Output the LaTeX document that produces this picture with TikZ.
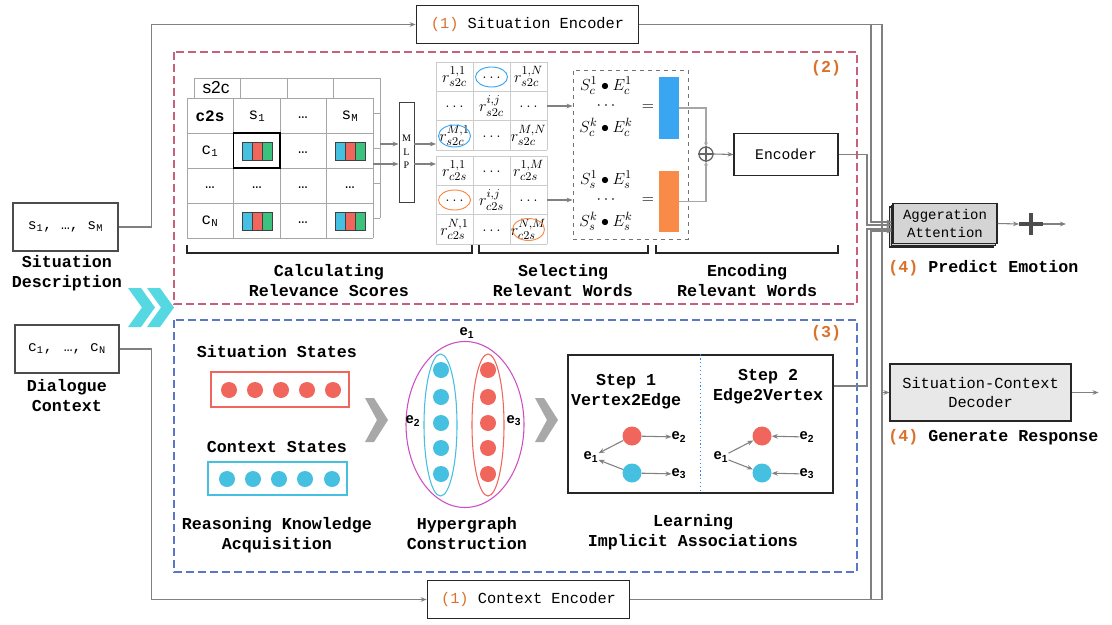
\documentclass[tikz,border=0pt]{standalone}
\usepackage{fontspec}
\setmainfont{Liberation Serif}
\setsansfont{Liberation Sans}
\setmonofont{Liberation Mono}
\usepackage{tikz}
\usetikzlibrary{arrows.meta,shadows,calc}

\definecolor{linegray}{HTML}{808080}
\definecolor{mgridc}{HTML}{A6A6A6}
\definecolor{rgridc}{HTML}{CCCCCC}
\definecolor{pinkline}{HTML}{C8607C}
\definecolor{blueline}{HTML}{5A76C6}
\definecolor{numorange}{HTML}{D9732B}
\definecolor{dotred}{HTML}{F0655C}
\definecolor{dotcyan}{HTML}{45C0E0}
\definecolor{barblue}{HTML}{3AA6F2}
\definecolor{barorange}{HTML}{F98A48}
\definecolor{bargreen}{HTML}{3CC27E}
\definecolor{hypermag}{HTML}{CC4FC4}
\definecolor{chevcyan}{HTML}{55D8E2}
\definecolor{chevgray}{HTML}{A8A8A8}

% three coloured cells of one pair vector
\newcommand{\tribar}[2]{%
  \draw[draw=black!75, fill=dotcyan] (#1-15,#2-9) rectangle (#1-5,#2+9);
  \draw[draw=black!75, fill=dotred] (#1-5,#2-9) rectangle (#1+5,#2+9);
  \draw[draw=black!75, fill=bargreen] (#1+5,#2-9) rectangle (#1+15,#2+9);
}

\begin{document}
\begin{tikzpicture}[x=0.75pt, y=0.75pt, yscale=-1,
    >={Stealth[length=4.5pt,width=3.5pt]},
    gline/.style={draw=linegray, line width=0.8pt},
    garrow/.style={gline, ->},
    mgrid/.style={draw=mgridc, line width=0.7pt},
    rgrid/.style={draw=rgridc, line width=0.7pt},
    lbl/.style={font=\fontsize{12.5}{15}\selectfont\ttfamily\bfseries, align=center, inner sep=0pt},
    boxtxt/.style={draw=black!85, line width=0.8pt, font=\fontsize{11.5}{14}\selectfont\ttfamily, align=center, inner sep=0pt},
    num/.style={font=\fontsize{12.5}{15}\selectfont\ttfamily\bfseries, text=numorange, inner sep=0pt},
    cellfont/.style={font=\fontsize{12}{12}\selectfont\ttfamily, inner sep=0pt},
    rfont/.style={font=\fontsize{13}{13}\selectfont, inner sep=0pt},
    ffont/.style={font=\fontsize{12.5}{12.5}\selectfont, inner sep=0pt},
    elab/.style={font=\fontsize{11}{11}\selectfont\sffamily\bfseries, inner sep=0pt},
    dot/.style={circle, minimum size=14.25pt, inner sep=0pt},
  ]
  \fill[white] (0,0) rectangle (1112,624);
  \useasboundingbox (0,0) rectangle (1112,624);

  % encoders and inputs
  \node[boxtxt, minimum width=167pt, minimum height=29pt] (senc) at (527.5,24.5) {\textcolor{numorange}{(1)} Situation Encoder};
  \node[boxtxt, minimum width=152pt, minimum height=29pt] (cenc) at (528.5,599.5) {\textcolor{numorange}{(1)} Context Encoder};
  \node[boxtxt, draw=black!70, minimum width=78.75pt, minimum height=36pt, font=\fontsize{11}{13}\selectfont\ttfamily] (sdesc) at (65.5,227) {s\textsubscript{1}, …, s\textsubscript{M}};
  \node[boxtxt, draw=black!70, minimum width=78pt, minimum height=36pt, font=\fontsize{11}{13}\selectfont\ttfamily] (dctx) at (67,349) {c\textsubscript{1}, \,…, c\textsubscript{N}};
  \node[lbl] (sdesclbl) at (67,273.5) {Situation\\Description};
  \node[lbl] (dctxlbl) at (67,396) {Dialogue\\Context};
  \draw[garrow] (sdesc.east) -- ++(33,0) |- (senc.west);
  \draw[garrow] (dctx.east) -- ++(32,0) |- (cenc.west);

  % cyan chevrons
  \foreach \dx in {0,19}
    \fill[chevcyan] (128+\dx,288) -- (141+\dx,288) -- (155+\dx,307.5) -- (141+\dx,327) -- (128+\dx,327) -- (142+\dx,307.5) -- cycle;

  % dashed panels
  \draw[pinkline, line width=0.8pt, dash pattern=on 6pt off 3pt] (174,52) rectangle (857,304);
  \draw[blueline, line width=0.8pt, dash pattern=on 6pt off 3pt] (174,320) rectangle (857,572);
  \node[num] (n2) at (826,68) {(2)};
  \node[num] (n3) at (826,333) {(3)};

  % relevance matrices
  \foreach \i in {0,...,4} {
    \draw[mgrid] (194+46.5*\i,78) -- (194+46.5*\i,218);
    \draw[mgrid] (194,78+35*\i) -- (380,78+35*\i);
  }
  \fill[white] (187,98) rectangle (373,238);
  \foreach \i in {0,...,4} {
    \draw[mgrid] (187+46.5*\i,98) -- (187+46.5*\i,238);
    \draw[mgrid] (187,98+35*\i) -- (373,98+35*\i);
  }
  \draw[black, line width=0.8pt] (233.5,133) rectangle (280,168);
  \node[font=\fontsize{13}{13}\selectfont\sffamily, inner sep=0pt] (s2c) at (216,88) {s2c};
  \node[cellfont, font=\fontsize{12}{12}\selectfont\ttfamily\bfseries] (c2s) at (210,116) {c2s};
  \node[cellfont] (sa) at (257,116) {s\textsubscript{1}};
  \node[cellfont] (sb) at (303,118) {…};
  \node[cellfont] (sm) at (350,116) {s\textsubscript{M}};
  \node[cellfont] (ca) at (210,151) {c\textsubscript{1}};
  \node[cellfont] (cb) at (303,153) {…};
  \node[cellfont] (cn) at (210,221) {c\textsubscript{N}};
  \node[cellfont] (cd) at (303,223) {…};
  \foreach \x [count=\k] in {210,257,303,350}
    \node[cellfont] (dd-\k) at (\x,188) {…};
  \tribar{257}{151} \tribar{350}{151}
  \tribar{257}{221} \tribar{350}{221}

  % MLP
  \node[draw=black!75, line width=0.7pt, minimum width=11.25pt, minimum height=75pt, inner sep=0pt, font=\fontsize{7.5}{10}\selectfont, align=center] (mlp) at (406.5,152) {M\\L\\P};
  \coordinate (mtop) at (380,144);
  \coordinate (mbot) at (373,164);
  \coordinate (rtab) at (436,0);
  \draw[garrow] (mtop) -- (mtop -| mlp.west);
  \draw[garrow] (mbot) -- (mbot -| mlp.west);
  \draw[garrow] (mlp.east |- mtop) -- (rtab |- mtop);
  \draw[garrow] (mlp.east |- mbot) -- (rtab |- mbot);

  % selected scores
  \foreach \i in {0,...,3} {
    \draw[rgrid] (436+37*\i,62) -- (436+37*\i,150);
    \draw[rgrid] (436,62+29.33*\i) -- (547,62+29.33*\i);
    \draw[rgrid] (436+37*\i,156) -- (436+37*\i,244);
    \draw[rgrid] (436,156+29.33*\i) -- (547,156+29.33*\i);
  }
  \foreach \cx/\cy/\ct [count=\k] in {
      454.5/76.7/{$r^{1,1}_{s2c}$}, 491.5/78/{$\ldots$}, 528.5/76.7/{$r^{1,N}_{s2c}$},
      454.5/107/{$\ldots$}, 491.5/106/{$r^{i,j}_{s2c}$}, 528.5/107/{$\ldots$},
      454.5/135.3/{$r^{M,1}_{s2c}$}, 491.5/136.5/{$\ldots$}, 528.5/135.3/{$r^{M,N}_{s2c}$},
      454.5/170.7/{$r^{1,1}_{c2s}$}, 491.5/172/{$\ldots$}, 528.5/170.7/{$r^{1,M}_{c2s}$},
      454.5/201/{$\ldots$}, 491.5/200/{$r^{i,j}_{c2s}$}, 528.5/201/{$\ldots$},
      454.5/229.3/{$r^{N,1}_{c2s}$}, 491.5/230.5/{$\ldots$}, 528.5/229.3/{$r^{N,M}_{c2s}$}}
    \node[rfont] (r-\k) at (\cx,\cy) {\ct};
  \draw[barblue, line width=0.7pt] (491.5,77) ellipse (16 and 10);
  \draw[barblue, line width=0.7pt] (454.5,136) ellipse (16 and 11);
  \draw[barorange, line width=0.7pt] (454.5,200) ellipse (16 and 10);
  \draw[barorange, line width=0.7pt] (528.5,229.5) ellipse (16 and 11);

  % word selection
  \node[draw=black!55, dashed, line width=0.7pt, minimum width=86.25pt, minimum height=126.75pt, inner sep=0pt] (selbox) at (630.5,154.5) {};
  \coordinate (sela) at (547,106);
  \coordinate (selb) at (547,200);
  \draw[garrow] (sela) -- (sela -| selbox.west);
  \draw[garrow] (selb) -- (selb -| selbox.west);
  \node[ffont] (fa) at (606,86) {$S_c^1\bullet E_c^1$};
  \node[ffont] (fb) at (606,106) {$\cdots$};
  \node[ffont] (fc) at (606,127) {$S_c^k\bullet E_c^k$};
  \node[rfont] (fd) at (648,108) {$=$};
  \node[ffont] (fe) at (606,180) {$S_s^1\bullet E_s^1$};
  \node[ffont] (ff) at (606,200) {$\cdots$};
  \node[ffont] (fg) at (606,221) {$S_s^k\bullet E_s^k$};
  \node[rfont] (fh) at (648,201) {$=$};
  \node[fill=barblue, minimum width=15pt, minimum height=46.5pt, inner sep=0pt] (vblue) at (669,108) {};
  \node[fill=barorange, minimum width=15pt, minimum height=45.75pt, inner sep=0pt] (vorange) at (669,201.5) {};

  % encoding
  \node[circle, draw=black!60, line width=1pt, minimum size=10.5pt, inner sep=0pt] (oplus) at (706,154) {};
  \draw[black!60, line width=1pt] (oplus.north) -- (oplus.south) (oplus.west) -- (oplus.east);
  \draw[gline, draw=black!35, -{Stealth[length=3pt,width=3pt]}] (vblue.east) -| (oplus.north);
  \draw[gline, draw=black!35, -{Stealth[length=3pt,width=3pt]}] (vorange.east) -| (oplus.south);
  \node[boxtxt, minimum width=78pt, minimum height=32pt, font=\fontsize{11}{13}\selectfont\ttfamily] (enc) at (786,154.5) {Encoder};
  \draw[garrow] (oplus.east) -- (enc.west);

  % brackets
  \draw[black!85, line width=0.8pt] (187,245) -- (187,253) -- (472,253) -- (472,245);
  \draw[black!85, line width=0.8pt] (479,245) -- (479,253) -- (648,253) -- (648,245);
  \draw[black!85, line width=0.8pt] (656,245) -- (656,253) -- (838,253) -- (838,245);
  \node[lbl] (calc) at (329,281) {Calculating\\Relevance Scores};
  \node[lbl] (sel) at (563,281) {Selecting\\Relevant Words};
  \node[lbl] (encl) at (747,281) {Encoding\\Relevant Words};

  % knowledge states
  \node[lbl] (sitst) at (277,352) {Situation States};
  \node[draw=dotred, line width=0.8pt, minimum width=103.5pt, minimum height=26.25pt, inner sep=0pt] (sitbox) at (280,389.5) {};
  \foreach \x in {229,255,281,307,333}
    \fill[dotred] (\x,390) circle (8);
  \node[lbl] (ctxst) at (277,447) {Context States};
  \node[draw=dotcyan, line width=0.8pt, minimum width=104.25pt, minimum height=24.75pt, inner sep=0pt] (ctxbox) at (277.5,478.5) {};
  \foreach \x in {227,253,279,305,332}
    \fill[dotcyan] (\x,479) circle (8);
  \node[lbl] (rka) at (277,535) {Reasoning Knowledge\\Acquisition};

  % gray chevrons
  \foreach \cx in {365,535}
    \fill[chevgray] (\cx,398) -- (\cx+9,398) -- (\cx+23,420) -- (\cx+9,442) -- (\cx,442) -- (\cx+12,420) -- cycle;

  % hypergraph
  \draw[hypermag, line width=0.8pt] (465,424.5) ellipse (59 and 83);
  \draw[dotcyan, line width=0.8pt] (440.5,425) ellipse (16.5 and 71);
  \draw[dotred, line width=0.8pt] (488,425) ellipse (16 and 71);
  \foreach \y in {370,397,423,448,474} {
    \fill[dotcyan] (441,\y) circle (8);
    \fill[dotred] (488,\y) circle (8);
  }
  \node[elab] (he1) at (467,333) {e\textsubscript{1}};
  \node[elab] (he2) at (413,421) {e\textsubscript{2}};
  \node[elab] (he3) at (514,421) {e\textsubscript{3}};
  \node[lbl] (hgc) at (467,534) {Hypergraph\\Construction};

  % implicit associations
  \node[draw=black!85, line width=0.8pt, minimum width=198.75pt, minimum height=103.5pt, inner sep=0pt] (impl) at (700.5,424) {};
  \draw[dotcyan!70!blue, dotted, line width=0.9pt] (impl.north) -- (impl.south);
  \node[lbl] (st1) at (626,391.5) {Step 1\\Vertex2Edge};
  \node[lbl] (st2) at (768,387) {Step 2\\Edge2Vertex};
  \node[dot, fill=dotred] (ra) at (632,436) {};
  \node[dot, fill=dotcyan] (ca1) at (632,473) {};
  \node[elab] (ea1) at (591,457) {e\textsubscript{1}};
  \node[elab] (ea2) at (679,437) {e\textsubscript{2}};
  \node[elab] (ea3) at (679,474) {e\textsubscript{3}};
  \draw[garrow] (ra) -- (ea2);
  \draw[garrow] (ca1) -- (ea3);
  \draw[garrow] (ra) -- (ea1);
  \draw[garrow] (ca1) -- (ea1);
  \node[dot, fill=dotred] (rb) at (762,436) {};
  \node[dot, fill=dotcyan] (cb1) at (762,473) {};
  \node[elab] (eb1) at (721,457) {e\textsubscript{1}};
  \node[elab] (eb2) at (807,437) {e\textsubscript{2}};
  \node[elab] (eb3) at (807,474) {e\textsubscript{3}};
  \draw[garrow] (eb2) -- (rb);
  \draw[garrow] (eb3) -- (cb1);
  \draw[garrow] (eb1) -- (rb);
  \draw[garrow] (eb1) -- (cb1);
  \node[lbl] (lia) at (693,532) {Learning\\Implicit Associations};

  % outputs
  \node[boxtxt, fill=black!17, minimum width=78pt, minimum height=30pt, font=\fontsize{10.5}{13}\selectfont\ttfamily,
        double copy shadow={shadow xshift=-1.3pt, shadow yshift=-1.3pt}] (agg) at (945,223.5) {Aggeration\\Attention};
  \node[num, anchor=west] (pe) at (888,268) {(4) \textcolor{black}{Predict Emotion}};
  \coordinate (pl) at (1031,224);
  \draw[garrow] (agg.east) -- ($(pl)+(-12,0)$);
  \draw[black!70, line width=2.6pt] ($(pl)+(-12,0)$) -- ($(pl)+(12,0)$) ($(pl)+(0,-11)$) -- ($(pl)+(0,11)$);
  \draw[garrow] ($(pl)+(12,0)$) -- ($(pl)+(35,0)$);
  \node[boxtxt, fill=black!9, minimum width=135.75pt, minimum height=42.75pt] (dec) at (980.5,392.5) {Situation-Context\\Decoder};
  \node[num, anchor=west] (gr) at (888,437) {(4) \textcolor{black}{Generate Response}};
  \draw[garrow] (dec.east) -- ++(27,0);

  % bus lines on the right
  \coordinate (busa) at (871,0);
  \coordinate (busb) at (867,0);
  \coordinate (busc) at (882,0);
  \draw[gline] (senc.east) -- (senc.east -| busc) -- (cenc.east -| busc) -- (cenc.east);
  \draw[garrow] (busc |- dec.west) -- (dec.west);
  \draw[garrow] (senc.east -| busa) -- (busa |- 0,222) -- (agg.west |- 0,222);
  \draw[garrow] (enc.east) -- (enc.east -| busb) -- (busb |- 0,225) -- (agg.west |- 0,225);
  \draw[garrow] (impl.east |- 0,386) -- (busb |- 0,386) -- (busb |- 0,229) -- (agg.west |- 0,229);
  \draw[garrow] (cenc.east -| busa) -- (busa |- 0,231) -- (agg.west |- 0,231);
\end{tikzpicture}
\end{document}
